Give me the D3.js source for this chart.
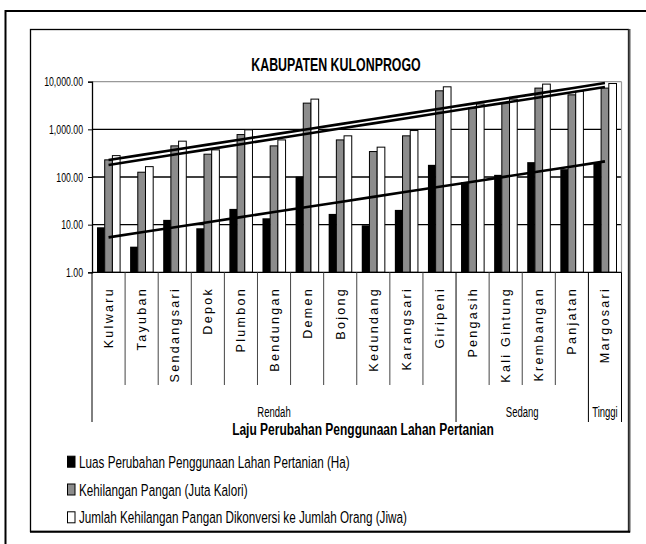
<!DOCTYPE html>
<html lang="id">
<head>
<meta charset="UTF-8">
<title>Kabupaten Kulonprogo</title>
<script src="https://d3js.org/d3.v7.min.js"></script>
<style>
    body { margin: 0; background: #fff; }
    svg { display: block; }
    svg text { font-family: "Liberation Sans", Arimo, Arial, sans-serif; fill: #000; }
    .cat { font-size: 12.5px; letter-spacing: 2.3px; }
</style>
</head>
<body>
<svg id="chart" width="646" height="544"></svg>
<script>
const categories = ["Kulwaru", "Tayuban", "Sendangsari", "Depok", "Plumbon", "Bendungan", "Demen", "Bojong",
    "Kedundang", "Karangsari", "Giripeni", "Pengasih", "Kali Gintung", "Krembangan", "Panjatan", "Margosari"];

// Luas Perubahan Penggunaan Lahan Pertanian (Ha)
const luas = [8.8, 3.45, 12.6, 8.4, 21.4, 13.6, 102, 16.8, 9.7, 20.4, 180, 78, 111, 205, 146, 205];
// Kehilangan Pangan (Juta Kalori)
const pangan = [229, 126, 450, 301, 777, 450, 3550, 600, 342, 731, 6440, 2800, 3600, 7340, 5300, 7340];
// Jumlah Kehilangan Pangan Dikonversi ke Jumlah Orang (Jiwa)
const jiwa = [281, 165, 565, 371, 976, 600, 4310, 731, 423, 944, 7810, 3400, 4300, 8900, 6300, 9160];

const groupNames = ["Rendah", "Sedang", "Tinggi"];
const groupSizes = [11, 4, 1];

const yTicks = [1, 10, 100, 1000, 10000];

const seriesNames = [
    "Luas Perubahan Penggunaan Lahan Pertanian (Ha)",
    "Kehilangan Pangan (Juta Kalori)",
    "Jumlah Kehilangan Pangan Dikonversi ke Jumlah Orang (Jiwa)"
];
const seriesFill = ["#000", "#8c8c8c", "#fff"];
const seriesValues = [luas, pangan, jiwa];

const svg = d3.select('#chart');
const plotLeft = 92, plotRight = 621.5, plotTop = 81.7, plotBottom = 272.3;

// the source uses a narrow font: squeeze Liberation Sans horizontally
function narrowText(parent, x, y, str, size, opts = {}) {
    const g = parent.append('g')
        .attr('transform', `translate(${x},${y}) scale(${opts.sx || 0.7},1)`);
    return g.append('text')
        .attr('text-anchor', opts.anchor || 'start')
        .attr('font-size', size)
        .attr('font-weight', opts.bold ? 'bold' : null)
        .text(str);
}

// outer frame + chart frame
svg.append('path').attr('d', 'M5.5,560 L5.5,11 L660,11')
    .attr('fill', 'none').attr('stroke', '#000').attr('stroke-width', 2);
svg.append('rect').attr('x', 30.5).attr('y', 29.5).attr('width', 598).attr('height', 502)
    .attr('fill', '#fff').attr('stroke', '#000').attr('stroke-width', 1.3);
svg.append('line').attr('x1', 629.5).attr('x2', 629.5).attr('y1', 29).attr('y2', 532.5)
    .attr('stroke', '#555').attr('stroke-width', 2);
svg.append('line').attr('x1', 30).attr('x2', 630).attr('y1', 531.8).attr('y2', 531.8)
    .attr('stroke', '#000').attr('stroke-width', 2);

narrowText(svg, 336, 71, 'KABUPATEN KULONPROGO', 18.5, { anchor: 'middle', bold: true, sx: 0.67 });

const x0 = d3.scaleBand().domain(categories).range([plotLeft, plotRight]);
const x1 = d3.scaleBand().domain([0, 1, 2]).range([0, x0.bandwidth()]).paddingOuter(0.65);
const y = d3.scaleLog().domain([1, 10000]).range([plotBottom, plotTop]);

// grid lines
svg.append('g').selectAll('line')
    .data(yTicks.slice(1))
    .enter().append('line')
    .attr('x1', plotLeft).attr('x2', plotRight)
    .attr('y1', d => y(d)).attr('y2', d => y(d))
    .attr('stroke', d => d === 10000 ? '#999' : '#000')
    .attr('stroke-width', d => d === 10000 ? 1.2 : 1.3);
svg.append('line').attr('x1', plotRight).attr('x2', plotRight).attr('y1', plotTop).attr('y2', plotBottom)
    .attr('stroke', '#999').attr('stroke-width', 1.2);

// bars
seriesValues.forEach((vals, s) => {
    svg.append('g').selectAll('rect')
        .data(vals)
        .enter().append('rect')
        .attr('x', (d, i) => x0(categories[i]) + x1(s))
        .attr('y', d => y(d))
        .attr('width', x1.bandwidth())
        .attr('height', d => y(1) - y(d))
        .attr('fill', seriesFill[s])
        .attr('stroke', '#000')
        .attr('stroke-width', s === 0 ? 0 : 1);
});

// exponential trend lines (least squares on log values)
function expFit(vals) {
    const xs = vals.map((d, i) => i + 1);
    const ls = vals.map(d => Math.log10(d));
    const mx = d3.mean(xs), ml = d3.mean(ls);
    const b = d3.sum(xs, (xv, i) => (xv - mx) * (ls[i] - ml)) / d3.sum(xs, xv => (xv - mx) * (xv - mx));
    const a = ml - b * mx;
    return xs.map(xv => ({ i: xv - 1, v: Math.pow(10, a + b * xv) }));
}
const trend = d3.line()
    .x(d => x0(categories[d.i]) + x0.bandwidth() / 2)
    .y(d => y(d.v));
seriesValues.forEach(vals => {
    svg.append('path')
        .attr('d', trend(expFit(vals)))
        .attr('fill', 'none')
        .attr('stroke', '#000')
        .attr('stroke-width', 2.6);
});

// y axis
const yAxis = svg.append('g').attr('transform', `translate(${plotLeft},0)`)
    .call(d3.axisLeft(y).tickValues(yTicks).tickSize(4).tickFormat(''));
yAxis.select('.domain').attr('stroke', '#000').attr('stroke-width', 1.3);
yAxis.selectAll('.tick line').attr('stroke', '#000');
const fmt = d3.format(',.2f');
yTicks.forEach(t => narrowText(svg, plotLeft - 9, y(t) + 4.5, fmt(t), 12.5, { anchor: 'end' }));

// x axis line
svg.append('line').attr('x1', plotLeft).attr('x2', plotRight).attr('y1', plotBottom).attr('y2', plotBottom)
    .attr('stroke', '#000').attr('stroke-width', 1.3);

// category separators
const groupEnds = Array.from(d3.cumsum(groupSizes));
const bounds = d3.range(categories.length + 1);
svg.append('g').selectAll('line')
    .data(bounds)
    .enter().append('line')
    .attr('x1', d => plotLeft + d * x0.step()).attr('x2', d => plotLeft + d * x0.step())
    .attr('y1', plotBottom)
    .attr('y2', d => (d === 0 || groupEnds.includes(d)) ? 422 : 385)
    .attr('stroke', d => (d === 0 || groupEnds.includes(d)) ? '#000' : '#444')
    .attr('stroke-width', 1);

// category labels
svg.append('g').selectAll('text')
    .data(categories)
    .enter().append('text')
    .attr('class', 'cat')
    .attr('transform', d => `translate(${x0(d) + x0.bandwidth() / 2 + 4.5},287) rotate(-90)`)
    .attr('text-anchor', 'end')
    .text(d => d);

// group labels
const groupStarts = [0].concat(groupEnds.slice(0, -1));
groupNames.forEach((name, i) => {
    narrowText(svg, plotLeft + (groupStarts[i] + groupSizes[i] / 2) * x0.step(), 416.5, name, 14,
        { anchor: 'middle', sx: 0.68 });
});

narrowText(svg, 363, 435, 'Laju Perubahan Penggunaan Lahan Pertanian', 16, { anchor: 'middle', bold: true, sx: 0.75 });

// legend
const legend = svg.append('g').selectAll('g')
    .data(seriesNames)
    .enter().append('g')
    .attr('transform', (d, i) => `translate(67,${461.7 + i * 27.8})`);
legend.append('rect')
    .attr('x', 0.5).attr('y', -5.5).attr('width', 7.5).attr('height', 11)
    .attr('fill', (d, i) => seriesFill[i])
    .attr('stroke', '#000').attr('stroke-width', 1);
legend.each(function (d) {
    narrowText(d3.select(this), 12, 6, d, 16.5, { sx: 0.71 });
});
</script>
</body>
</html>
